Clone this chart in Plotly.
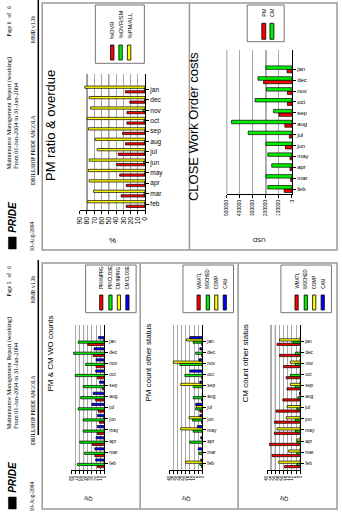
import plotly.graph_objects as go

W, H = 342, 512
SANS = "Liberation Sans, Arial, sans-serif"
SERIF = "Liberation Serif, Times New Roman, serif"

# months listed bottom-to-top along the category axis
months = ["feb", "mar", "apr", "may", "jun", "jul", "aug", "sep", "oct", "nov", "dec", "jan"]

# page 6 - PM ratio & overdue (%)
pct_ovr = [26, 33, 26, 35, 39, 37, 27, 31, 25, 25, 21, 27]
pct_ovr_sm = [0.5, 1.5, 0.5, 0.5, 2, 0.5, 1, 0.5, 1.5, 3, 0.5, 1]
pct_pm_all = [79, 71, 77, 78, 77, 66, 69, 78, 80, 75, 77, 83]

# page 6 - CLOSE Work Order costs (USD)
cost_pm = [60000, 10000, 15000, 15000, 50000, 20000, 55000, 100000, 35000, 35000, 217500, 37500]
cost_cm = [185000, 200000, 155000, 185000, 200000, 335000, 462500, 140000, 282500, 195000, 260000, 200000]

# page 5 - PM & CM WO counts
pm_inprg = [17, 23, 29, 17, 12, 15, 21, 5, 17, 20, 27, 40]
pm_close = [65, 48, 59, 51, 51, 63, 57, 51, 70, 45, 74, 63]
cm_inprg = [1, 0, 1, 1, 2, 0, 1, 1, 0, 1, 0, 2]
cm_close = [21, 23, 20, 17, 17, 30, 27, 12, 21, 20, 25, 14]

# page 5 - PM count other status
pm_wmatl = [1, 0, 0, 0, 1, 3, 1, 0, 1, 0, 1, 1]
pm_wsched = [3, 4, 15, 11, 12, 8, 11, 11, 21, 27, 8, 11]
pm_comp = [20, 0, 0, 26, 16, 7, 0, 26, 0, 35, 0, 19]
pm_can = [2, 5, 2, 6, 3, 8, 0, 3, 15, 4, 3, 15]

# page 5 - CM count other status
cm_wmatl = [19, 34, 37, 31, 31, 29, 21, 16, 17, 20, 25, 28]
cm_wsched = [4, 4, 4, 6, 6, 4, 3, 6, 12, 6, 6, 9]
cm_comp = [26, 14, 4, 28, 17, 16, 0, 12, 0, 12, 0, 25]
cm_can = [0, 0, 0, 0, 0, 0, 1, 0, 0, 0, 0, 0]

RED, GREEN, YELLOW, BLUE = "#ff0000", "#00ee00", "#ffff00", "#0000ff"


def fx(p):
    return p / W


def fy(p):
    return 1 - p / H


fig = go.Figure()
shapes = []
annotations = []


def text(x, y, s, size, angle=-90, xanchor="center", yanchor="middle",
         family=SANS, color="black"):
    annotations.append(dict(
        x=fx(x), y=fy(y), xref="paper", yref="paper", text=s, showarrow=False,
        textangle=angle, xanchor=xanchor, yanchor=yanchor, borderpad=0,
        font=dict(family=family, size=size, color=color)))


def line(x0, y0, x1, y1, color, width):
    shapes.append(dict(type="line", xref="paper", yref="paper",
                       x0=fx(x0), y0=fy(y0), x1=fx(x1), y1=fy(y1),
                       line=dict(color=color, width=width)))


def rect(x0, y0, x1, y1, fill, lc, lw):
    shapes.append(dict(type="rect", xref="paper", yref="paper",
                       x0=fx(x0), y0=fy(y0), x1=fx(x1), y1=fy(y1),
                       fillcolor=fill, line=dict(color=lc, width=lw)))


# chart panels: pixel box of the plotting area, value range, ticks
panels = [
    dict(n=1, left=77.3, right=144, top=74, bottom=210, vmax=90, dtick=10,
         yr=[-0.576, 12.49], tf=7, mf=6.5, dark=[50, 60, 80]),
    dict(n=2, left=227.3, right=294, top=50, bottom=194, vmax=500000, dtick=100000,
         yr=[-0.46, 12.78], tf=4.8, mf=6, dark=[200000, 500000]),
    dict(n=3, left=68.5, right=102.5, top=325, bottom=470, vmax=80, dtick=10,
         yr=[-0.6, 12.44], tf=4.5, mf=4.8, dark=[50, 60]),
    dict(n=4, left=168.5, right=202.5, top=325, bottom=470, vmax=40, dtick=5,
         yr=[-0.6, 12.44], tf=4.5, mf=4.8, dark=[25]),
    dict(n=5, left=268.5, right=302.5, top=325, bottom=470, vmax=40, dtick=5,
         yr=[-0.6, 12.44], tf=4.5, mf=4.8, dark=[30, 35]),
]

layout_axes = {}
for p in panels:
    n = p["n"]
    xk = "xaxis" if n == 1 else f"xaxis{n}"
    yk = "yaxis" if n == 1 else f"yaxis{n}"
    layout_axes[xk] = dict(
        domain=[fx(p["left"]), fx(p["right"])], anchor=f"y{n}" if n > 1 else "y",
        range=[p["vmax"], 0], dtick=p["dtick"], tick0=0, tickformat="d",
        showgrid=True, gridcolor="#a8a8a8", gridwidth=1, zeroline=False,
        showline=True, linecolor="black", linewidth=1,
        ticks="outside", ticklen=3, tickcolor="black", tickwidth=1,
        tickangle=-90, tickfont=dict(family=SANS, size=p["tf"], color="black"))
    layout_axes[yk] = dict(
        domain=[fy(p["bottom"]), fy(p["top"])], anchor=f"x{n}" if n > 1 else "x",
        type="category", categoryorder="array", categoryarray=months,
        range=p["yr"], side="right", showgrid=False, zeroline=False,
        showline=True, linecolor="black", linewidth=1,
        ticks="outside", ticklen=3, tickcolor="black", tickwidth=1,
        tickfont=dict(family=SANS, size=p["mf"], color="black"))
    for v in p["dark"]:
        shapes.append(dict(type="line", xref=f"x{n}" if n > 1 else "x",
                           yref=(f"y{n}" if n > 1 else "y") + " domain",
                           x0=v, x1=v, y0=0, y1=1, layer="below",
                           line=dict(color="#222222", width=1)))


def bars(n, series, width):
    k = len(series)
    start = -width * k / 2
    for i, (vals, color, name) in enumerate(series):
        fig.add_trace(go.Bar(
            x=vals, y=months, orientation="h", name=name,
            xaxis="x" if n == 1 else f"x{n}", yaxis="y" if n == 1 else f"y{n}",
            width=width, offset=start + i * width,
            marker=dict(color=color, line=dict(color="black", width=0.7)),
            showlegend=False))


bars(1, [(pct_ovr, RED, "%OVR"), (pct_ovr_sm, GREEN, "%OVR/SM"),
         (pct_pm_all, YELLOW, "%PM/ALL")], 0.22)
bars(2, [(cost_pm, RED, "PM"), (cost_cm, GREEN, "CM")], 0.32)
bars(3, [(pm_inprg, RED, "PM/INPRG"), (pm_close, GREEN, "PM/CLOSE"),
         (cm_inprg, YELLOW, "CM/INPRG"), (cm_close, BLUE, "CM/CLOSE")], 0.2)
bars(4, [(pm_wmatl, RED, "WMATL"), (pm_wsched, GREEN, "WSCHED"),
         (pm_comp, YELLOW, "COMP"), (pm_can, BLUE, "CAN")], 0.2)
bars(5, [(cm_wmatl, RED, "WMATL"), (cm_wsched, GREEN, "WSCHED"),
         (cm_comp, YELLOW, "COMP"), (cm_can, BLUE, "CAN")], 0.2)

# page frames
FRAME = "#9a9a9a"
rect(39, 3, 340, 250, "rgba(0,0,0,0)", FRAME, 1.5)
line(189.3, 3, 189.3, 250, FRAME, 1.5)
rect(39, 263, 340, 509, "rgba(0,0,0,0)", FRAME, 1.5)
line(139, 263, 139, 509, FRAME, 1.5)
line(239, 263, 239, 509, FRAME, 1.5)


def header(dy, page):
    line(35, dy + 0, 35, dy + 175, "black", 1.5)
    text(5.5, dy + 21, f"Page {page}&nbsp;&nbsp;&nbsp;of&nbsp;&nbsp;&nbsp;6", 5.5, family=SERIF)
    text(29, dy + 29.5, "MMR v1.3b", 5.5, family=SERIF)
    text(5.5, dy + 170, "Maintenance Management Report (working)", 6.3,
         yanchor="bottom", family=SERIF)
    text(11.8, dy + 170, "From 01-Jan-2004 to 31-Jan-2004", 6.3,
         yanchor="bottom", family=SERIF)
    text(29, dy + 186, "DRILLSHIP PRIDE ANGOLA", 5.5, yanchor="bottom", family=SERIF)
    text(29, dy + 252, "10-Aug-2004", 5.5, yanchor="bottom", family=SERIF)
    rect(4.5, dy + 237, 12.5, dy + 249, "black", "black", 0.5)
    text(8.5, dy + 234, "<b><i>PRIDE</i></b>", 10, yanchor="bottom")


header(0, 6)
header(260, 5)


def legend(x0, y0, x1, y1, centers, colors, labels, label_bottom, sw_top, sw_bottom,
           sw_w, size):
    rect(x0, y0, x1, y1, "white", "#777777", 1)
    for c, col, lab in zip(centers, colors, labels):
        rect(c - sw_w / 2, sw_top, c + sw_w / 2, sw_bottom, col, "black", 0.8)
        text(c, label_bottom, lab, size, yanchor="bottom")


legend(93.3, 5, 143.3, 63.3, [110.5, 119, 127.7], [RED, GREEN, YELLOW],
       ["%OVR", "%OVR/SM", "%PM/ALL"], 40, 45, 60, 3.5, 5.8)
legend(248.3, 5, 286, 41.7, [265.2, 273.5], [RED, GREEN], ["PM", "CM"],
       17.5, 23.3, 39.3, 4, 5.5)
for lx, labs in [(83.3, ["PM/INPRG", "PM/CLOSE", "CM/INPRG", "CM/CLOSE"]),
                 (182.7, ["WMATL", "WSCHED", "COMP", "CAN"]),
                 (282.7, ["WMATL", "WSCHED", "COMP", "CAN"])]:
    cs = [lx + 16, lx + 25.4, lx + 34, lx + 42.7]
    legend(lx, 265, lx + 51.6, 312.7, cs, [RED, GREEN, YELLOW, BLUE], labs,
           290, 295, 310, 3.3, 4.5)

# chart titles and axis titles
text(47, 126, "PM ratio &amp; overdue", 13)
text(193.5, 126.5, "CLOSE Work Order costs", 13)
text(46.5, 354, "PM &amp; CM WO counts", 8)
text(146.5, 363, "PM count other status", 8)
text(246.5, 363, "CM count other status", 8)
text(110.6, 240, "%", 8, angle=0)
text(260.6, 240, "USD", 6, angle=180)
for cx in (85.5, 185.5, 285.5):
    text(cx, 499, "Qty", 5.5, angle=180)

fig.update_layout(
    width=W, height=H, margin=dict(l=0, r=0, t=0, b=0),
    paper_bgcolor="white", plot_bgcolor="rgba(0,0,0,0)",
    barmode="overlay", showlegend=False,
    shapes=shapes, annotations=annotations, **layout_axes)

fig.write_html("out.html")
